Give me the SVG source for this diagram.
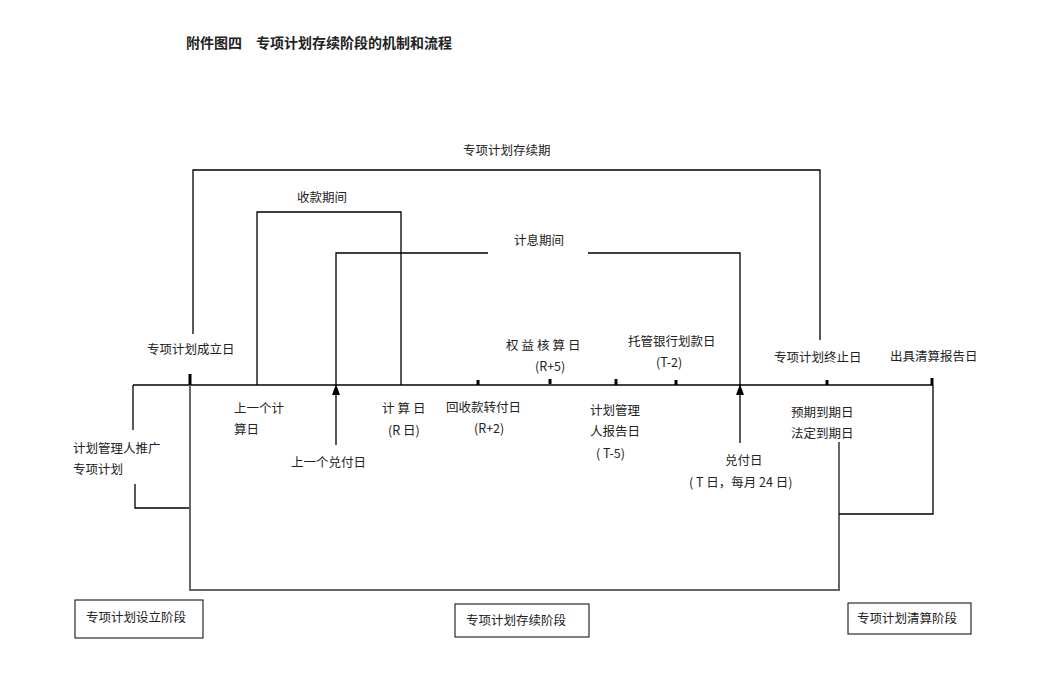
<svg xmlns="http://www.w3.org/2000/svg" width="1046" height="681" viewBox="0 0 1046 681">
<defs><marker id="ar" markerWidth="11" markerHeight="8" refX="10" refY="4" orient="auto" markerUnits="userSpaceOnUse"><path d="M0,0 L11,4 L0,8 Z" fill="#000"/></marker></defs>
<style>
text{font-family:"Noto Sans CJK SC","Liberation Sans",sans-serif;font-size:12.5px;fill:#222}
.l{stroke:#000;stroke-width:1.3;fill:none}
.g{stroke:#666;stroke-width:2;fill:none}
.t{stroke:#000;stroke-width:3}
.b{fill:#fff;stroke:#000;stroke-width:1}
</style>
<rect width="1046" height="681" fill="#fff"/>
<text x="186" y="48" style="font-weight:bold;font-size:14px">附件图四　专项计划存续阶段的机制和流程</text>
<g id="connectors">
<line class="l" x1="133" y1="385" x2="933" y2="385"/>
<polyline class="l" points="193,334 193,170 820,170 820,340"/>
<polyline class="l" points="257,385 257,212 401,212 401,385"/>
<polyline class="l" points="336,385 336,253 488,253"/>
<polyline class="l" points="588,253 740,253 740,385"/>
<line class="l" x1="336" y1="445" x2="336" y2="385" marker-end="url(#ar)"/>
<line class="l" x1="740" y1="443" x2="740" y2="385" marker-end="url(#ar)"/>
<polyline class="l" points="133,385 133,430"/>
<polyline class="l" points="135,484 135,508 190,508"/>
<polyline class="g" points="190,376 190,590 839,590 839,442"/>
<polyline class="l" points="839,514 933,514 933,385"/>
<g class="t"><line x1="190" y1="374" x2="190" y2="385"/><line x1="478" y1="380" x2="478" y2="385"/><line x1="550" y1="379" x2="550" y2="384"/><line x1="616" y1="379" x2="616" y2="385"/><line x1="676" y1="380" x2="676" y2="385"/><line x1="827" y1="380" x2="827" y2="385"/><line x1="932" y1="378" x2="932" y2="385"/></g>
</g>
<g id="labels">
<text x="463" y="155">专项计划存续期</text>
<text x="297" y="202">收款期间</text>
<text x="514" y="245">计息期间</text>
<text x="147" y="354">专项计划成立日</text>
<text x="506" y="350" style="letter-spacing:3px">权益核算日</text>
<text x="535" y="371">(R+5)</text>
<text x="628" y="346">托管银行划款日</text>
<text x="656" y="367">(T-2)</text>
<text x="774" y="362">专项计划终止日</text>
<text x="890" y="361">出具清算报告日</text>
<text x="234" y="413">上一个计</text>
<text x="234" y="434">算日</text>
<text x="382" y="413" style="letter-spacing:3px">计算日</text>
<text x="388" y="435">(R 日)</text>
<text x="446" y="412">回收款转付日</text>
<text x="474" y="433">(R+2)</text>
<text x="590" y="415">计划管理</text>
<text x="590" y="436">人报告日</text>
<text x="596" y="458">( T-5)</text>
<text x="291" y="467">上一个兑付日</text>
<text x="725" y="465">兑付日</text>
<text x="689" y="487">( T 日，每月 24 日)</text>
<text x="791" y="417">预期到期日</text>
<text x="791" y="438">法定到期日</text>
<text x="73" y="453">计划管理人推广</text>
<text x="73" y="474">专项计划</text>
</g>
<g id="n1"><rect class="b" x="75" y="600" width="128" height="38"/><text x="86" y="622">专项计划设立阶段</text></g>
<g id="n2"><rect class="b" x="455" y="604" width="134" height="33"/><text x="466" y="625">专项计划存续阶段</text></g>
<g id="n3"><rect class="b" x="848" y="603" width="123" height="31"/><text x="857" y="623">专项计划清算阶段</text></g>
</svg>
